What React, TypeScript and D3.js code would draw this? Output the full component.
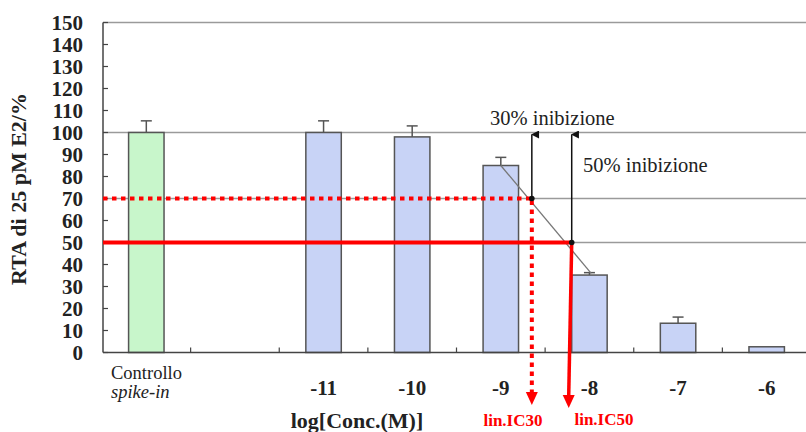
import React from "react";
import * as d3 from "d3";

const categories = ["ctrl", "gap", "-11", "-10", "-9", "-8", "-7", "-6"];
const tickLabels = ["", "", "-11", "-10", "-9", "-8", "-7", "-6"];
const values: (number | null)[] = [100, null, 100, 98, 85, 35.2, 13.3, 2.6];
const errors: (number | null)[] = [5.3, null, 5.3, 5, 3.7, 1.1, 2.8, 0];
const yTicks = [0, 10, 20, 30, 40, 50, 60, 70, 80, 90, 100, 110, 120, 130, 140, 150];
const gridValues = [50, 70, 100, 150];
const logConc = [-11, -10, -9, -8, -7, -6];
const ic30 = -8.65;
const ic50 = -8.2;
const inhibitionTop = 100;
const fitLine: [number, number][] = [[-9, 85], [-7.98, 36]];

const W = 806;
const H = 432;
const serif = "'Liberation Serif', 'Times New Roman', Times, serif";

export default function App() {
  const x = d3.scaleBand<string>().domain(categories).range([102, 811]).paddingInner(0.6).paddingOuter(0.3);
  const y = d3.scaleLinear().domain([0, 150]).range([352.5, 22.5]);
  const cx = (c: string) => (x(c) as number) + x.bandwidth() / 2;
  const xc = d3
    .scaleLinear()
    .domain([logConc[0], logConc[logConc.length - 1]])
    .range([cx("-11"), cx("-6")]);
  const left = 103;
  const right = 806;
  const step = x.step();
  const bw = x.bandwidth();
  const bounds = categories.slice(1).map((c) => (x(c) as number) - (step - bw) / 2);

  const x30 = xc(ic30);
  const x50 = xc(ic50);
  const fit = d3.line<[number, number]>().x((d) => xc(d[0])).y((d) => y(d[1]));

  const arrowDown = (xx: number, tip: number) =>
    `M${xx - 6},${tip - 13} L${xx + 6},${tip - 13} L${xx},${tip} Z`;

  const txt = (extra: React.CSSProperties = {}): React.CSSProperties => ({ fontFamily: serif, ...extra });

  return (
    <svg width={W} height={H} style={{ position: "absolute", left: 0, top: 0, background: "#fff" }}>
      <defs>
        <marker id="blk" viewBox="0 0 10 10" refX="5" refY="1" markerWidth="8" markerHeight="10" orient="auto-start-reverse" markerUnits="userSpaceOnUse">
          <path d="M0,10 L5,0 L10,10 Z" fill="#111" />
        </marker>
      </defs>
      {gridValues.map((g) => (
        <line key={g} x1={left} x2={right} y1={y(g)} y2={y(g)} stroke="#9a9a9a" strokeWidth={1.5} />
      ))}
      <line x1={left} x2={left} y1={y(150)} y2={y(0)} stroke="#444" strokeWidth={1.5} />
      {yTicks.map((t) => (
        <g key={t}>
          <line x1={left} x2={left + 5} y1={y(t)} y2={y(t)} stroke="#444" strokeWidth={1.2} />
          <text x={83} y={y(t) + 7} textAnchor="end" style={txt({ fontWeight: "bold", fontSize: 21 })} fill="#222">
            {t}
          </text>
        </g>
      ))}
      {categories.map((c, i) => {
        const v = values[i];
        if (v == null) return null;
        const e = errors[i] || 0;
        const bx = x(c) as number;
        const mid = cx(c);
        return (
          <g key={c}>
            {e > 0 && (
              <g stroke="#555" strokeWidth={1.5}>
                <line x1={mid} x2={mid} y1={y(v)} y2={y(v + e)} />
                <line x1={mid - 5.5} x2={mid + 5.5} y1={y(v + e)} y2={y(v + e)} />
              </g>
            )}
            <rect
              x={bx}
              y={y(v)}
              width={bw}
              height={y(0) - y(v)}
              fill={i === 0 ? "#c8f6cb" : "#c8d3f6"}
              stroke="#555"
              strokeWidth={1.5}
            />
          </g>
        );
      })}
      <line x1={left} x2={right} y1={y(0)} y2={y(0)} stroke="#444" strokeWidth={1.5} />
      {bounds.map((b, i) => (
        <line key={i} x1={b} x2={b} y1={y(0)} y2={y(0) - 5} stroke="#444" strokeWidth={1.2} />
      ))}
      {categories.map((c, i) =>
        tickLabels[i] ? (
          <text key={c} x={cx(c)} y={395} textAnchor="middle" style={txt({ fontWeight: "bold", fontSize: 21 })} fill="#222">
            {tickLabels[i]}
          </text>
        ) : null
      )}
      <text x={111} y={379} style={txt({ fontSize: 18.5 })} fill="#222">
        Controllo
      </text>
      <text x={111} y={398} style={txt({ fontStyle: "italic", fontSize: 18.5 })} fill="#222">
        spike-in
      </text>
      <path d={fit(fitLine) || ""} stroke="#777" strokeWidth={1.3} fill="none" />
      <line x1={left} x2={x30} y1={y(70)} y2={y(70)} stroke="#ff0000" strokeWidth={4} strokeDasharray="4.5 4.5" />
      <line x1={x30} x2={x30} y1={y(70) + 2} y2={394} stroke="#ff0000" strokeWidth={4} strokeDasharray="4.5 4.5" />
      <path d={arrowDown(x30, 405)} fill="#ff0000" />
      <line x1={left} x2={x50} y1={y(50)} y2={y(50)} stroke="#ff0000" strokeWidth={4} />
      <line x1={x50} x2={x50 - 3} y1={y(50)} y2={396} stroke="#ff0000" strokeWidth={3.5} />
      <path d={arrowDown(x50 - 3, 408)} fill="#ff0000" />
      <line x1={x30} x2={x30} y1={y(70)} y2={y(inhibitionTop) + 2} stroke="#111" strokeWidth={1.5} markerEnd="url(#blk)" />
      <line x1={x50} x2={x50} y1={y(50)} y2={y(inhibitionTop) + 2} stroke="#111" strokeWidth={1.5} markerEnd="url(#blk)" />
      <circle cx={x30} cy={y(70)} r={2.8} fill="#111" />
      <circle cx={x50} cy={y(50)} r={2.8} fill="#111" />
      <text x={490} y={125} style={txt({ fontSize: 20.5 })} fill="#222">
        30% inibizione
      </text>
      <text x={583} y={172} style={txt({ fontSize: 20.5 })} fill="#222">
        50% inibizione
      </text>
      <text x={513} y={426} textAnchor="middle" style={txt({ fontWeight: "bold", fontSize: 17 })} fill="#ff0000">
        lin.IC30
      </text>
      <text x={604} y={425} textAnchor="middle" style={txt({ fontWeight: "bold", fontSize: 17 })} fill="#ff0000">
        lin.IC50
      </text>
      <text x={357} y={428} textAnchor="middle" style={txt({ fontWeight: "bold", fontSize: 22 })} fill="#222">
        log[Conc.(M)]
      </text>
      <text transform="translate(26,189) rotate(-90)" textAnchor="middle" style={txt({ fontWeight: "bold", fontSize: 22 })} fill="#222">
        RTA di 25 pM E2/%
      </text>
    </svg>
  );
}
